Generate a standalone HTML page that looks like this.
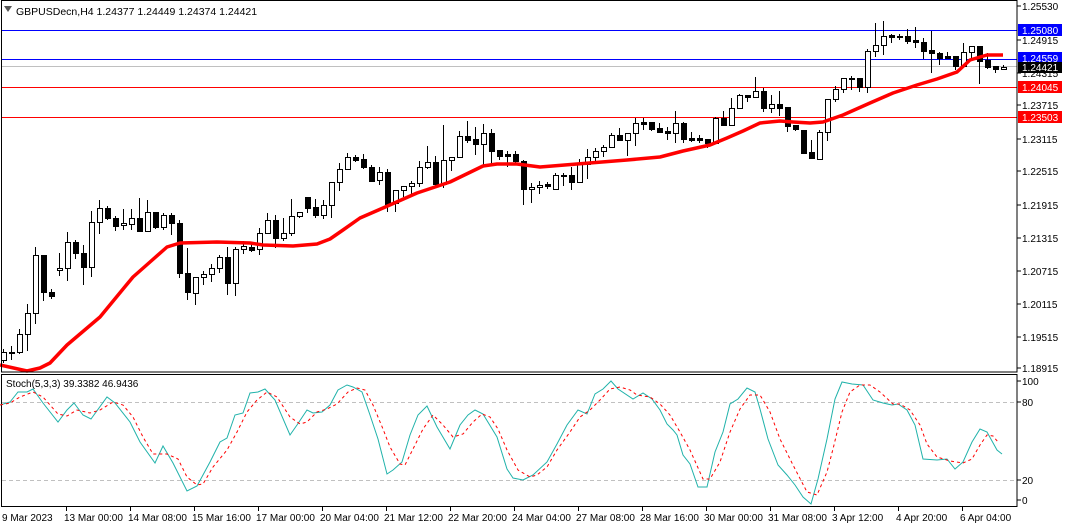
<!DOCTYPE html>
<html><head><meta charset="utf-8"><style>
html,body{margin:0;padding:0;background:#fff;}
svg{display:block;font-family:"Liberation Sans",sans-serif;font-size:10px;}
</style></head><body>
<svg id="s" width="1066" height="528" viewBox="0 0 1066 528" xmlns="http://www.w3.org/2000/svg">
<rect width="1066" height="528" fill="#fff"/>
<line x1="1" y1="30.5" x2="1017" y2="30.5" stroke="#0000ff" stroke-width="1"/>
<line x1="1" y1="59.5" x2="1017" y2="59.5" stroke="#0000ff" stroke-width="1"/>
<line x1="1" y1="66.5" x2="1017" y2="66.5" stroke="#c0c0c0" stroke-width="1"/>
<line x1="1" y1="87.5" x2="1017" y2="87.5" stroke="#ff0000" stroke-width="1"/>
<line x1="1" y1="117.5" x2="1017" y2="117.5" stroke="#ff0000" stroke-width="1"/>
<g id="candles"></g>
<polyline fill="none" stroke="#ff0000" stroke-width="3.5" stroke-linejoin="round" points="0,365 27,371 40,368 50,363 67,345 100,317 133,277 150,262 167,247 180,243 217,242 250,243 263,245 293,246 317,244 330,239 343,230 360,218 383,208 417,193 450,182 483,166 497,164 517,164 540,167 577,164 627,160 660,157 683,151 710,145 727,138 743,131 760,123 780,121 793,122 810,123 823,122 843,115 870,103 893,93 917,85 937,79 957,72 970,60 987,55 1003,55"/>
<rect x="1.5" y="0.5" width="1015.5" height="371.5" fill="none" stroke="#000"/>
<rect x="1.5" y="374.5" width="1015.5" height="132" fill="none" stroke="#000"/>
<text x="16" y="15" font-size="10.5">GBPUSDecn,H4  1.24377 1.24449 1.24374 1.24421</text>
<polygon points="4,6 12,6 8,12" fill="#555"/>
<g id="axis" font-size="10"></g>
<rect x="1018" y="24" width="44" height="12" fill="#0000ff"/><text x="1022" y="34" fill="#fff">1.25080</text>
<rect x="1018" y="52" width="44" height="11" fill="#0000ff"/><text x="1022" y="62" fill="#fff">1.24559</text>
<rect x="1018" y="62" width="44" height="11" fill="#000"/><text x="1022" y="71" fill="#fff">1.24421</text>
<rect x="1018" y="81" width="44" height="12" fill="#ff0000"/><text x="1022" y="91" fill="#fff">1.24045</text>
<rect x="1018" y="111" width="44" height="12" fill="#ff0000"/><text x="1022" y="121" fill="#fff">1.23503</text>
<line x1="2" y1="402.5" x2="1016" y2="402.5" stroke="#c0c0c0" stroke-dasharray="4,3"/>
<line x1="2" y1="480.5" x2="1016" y2="480.5" stroke="#c0c0c0" stroke-dasharray="4,3"/>
<text x="6" y="387" font-size="10">Stoch(5,3,3) 39.3382 46.9436</text>
<polyline fill="none" stroke="#20b2aa" stroke-width="1" points="0,405 10,402 18,392 27,392 33,389 43,403 58,422 67,410 74,403 83,415 91,419 107,397 115,403 130,422 140,442 155,463 163,446 173,463 187,491 197,486 210,462 220,442 227,438 235,415 243,413 250,393 258,392 265,389 275,400 290,435 297,425 307,410 313,413 322,412 330,405 338,390 347,385 353,387 362,392 370,415 378,439 387,474 393,470 402,462 410,435 418,415 427,406 437,427 450,449 460,425 468,415 475,410 483,414 497,437 507,469 513,478 523,480 533,475 547,462 557,444 567,425 578,410 587,414 595,394 603,389 611,381 618,389 633,399 643,393 652,399 660,410 667,424 673,430 677,435 683,455 690,464 698,487 707,487 715,452 723,432 730,404 738,399 747,388 755,392 760,409 768,439 778,465 787,475 795,485 803,497 811,504 818,479 827,439 835,399 842,382 852,384 863,385 873,400 883,403 892,405 898,404 907,410 915,425 923,459 937,460 947,459 955,469 963,462 972,442 980,429 987,432 997,450 1002,454"/>
<polyline fill="none" stroke="#ff0000" stroke-width="1" stroke-dasharray="3,3" points="0,405 10,403 20,397 33,392 43,397 58,414 67,416 77,410 90,413 100,410 113,402 123,405 133,417 143,437 153,454 167,454 178,459 187,477 197,485 203,484 213,467 227,450 237,432 247,412 257,400 267,392 277,397 290,417 300,424 307,422 317,412 327,409 337,404 348,392 357,388 365,390 373,405 383,429 390,447 400,464 405,465 413,449 423,429 433,415 443,425 453,437 463,434 473,422 482,414 490,417 498,429 507,450 518,470 530,477 537,475 547,467 557,450 570,432 580,417 590,410 600,400 610,389 620,387 630,390 637,395 650,397 660,404 670,415 680,432 690,450 703,479 710,479 720,462 730,432 740,409 750,395 760,395 770,412 780,439 793,465 807,492 817,495 827,472 833,449 842,412 850,392 860,385 870,385 880,392 893,404 900,404 910,410 920,425 927,444 937,457 950,461 963,463 972,459 980,445 987,435 993,436 998,442"/>
<g font-size="10">
<line x1="1017" y1="381" x2="1021" y2="381" stroke="#000"/><text x="1022" y="385">100</text>
<line x1="1017" y1="402" x2="1021" y2="402" stroke="#000"/><text x="1022" y="406">80</text>
<line x1="1017" y1="480" x2="1021" y2="480" stroke="#000"/><text x="1022" y="484">20</text>
<line x1="1017" y1="500" x2="1021" y2="500" stroke="#000"/><text x="1022" y="504">0</text>
</g>
<g id="time" font-size="10"></g>
</svg>
<script>
var C=[
[349,363,352,360,'w'],[346,360,352,352,'w'],[329,354,334,352,'w'],[304,351,313,334,'w'],[247,324,255,313,'w'],[255,301,255,292,'b'],[289,299,292,296,'b'],[253,276,268,270,'w'],[232,281,242,268,'w'],[240,259,242,253,'b'],
[245,285,253,267,'b'],[211,277,222,267,'w'],[200,234,208,222,'w'],[206,220,208,218,'b'],[216,231,218,226,'b'],[209,230,223,225,'w'],[209,230,218,224,'w'],[198,231,218,231,'b'],[200,231,212,231,'w'],[212,229,212,227,'b'],
[213,230,215,227,'w'],[213,235,215,223,'b'],[220,278,223,273,'b'],[248,300,273,292,'b'],[277,305,277,293,'w'],[271,285,274,277,'w'],[264,282,268,274,'w'],[255,273,257,268,'w'],[247,295,257,283,'b'],[247,296,249,283,'w'],
[241,254,246,249,'w'],[244,252,247,250,'b'],[228,255,233,249,'w'],[213,233,220,233,'w'],[215,248,220,238,'b'],[218,241,233,238,'w'],[199,236,216,233,'w'],[212,218,212,216,'w'],[197,213,197,208,'b'],[199,218,207,215,'b'],
[200,219,205,215,'w'],[182,218,182,205,'w'],[163,191,169,182,'w'],[153,170,157,169,'w'],[155,162,157,160,'b'],[154,169,159,167,'b'],[165,182,167,181,'b'],[167,185,172,180,'w'],[169,212,172,204,'b'],[190,212,190,203,'w'],
[186,197,186,190,'w'],[181,195,183,186,'w'],[161,187,167,183,'w'],[146,169,162,167,'w'],[156,188,162,184,'b'],[125,188,160,184,'w'],[157,171,157,160,'w'],[131,157,136,157,'w'],[121,143,136,140,'b'],[127,155,139,144,'b'],
[124,166,133,144,'w'],[129,166,133,151,'b'],[150,160,150,156,'b'],[151,167,154,156,'b'],[151,163,154,161,'b'],[160,205,161,189,'b'],[183,203,187,189,'w'],[181,194,185,187,'w'],[182,189,184,186,'b'],[173,189,175,189,'w'],
[173,186,175,176,'w'],[167,190,175,182,'b'],[159,183,164,182,'w'],[149,179,157,164,'w'],[148,164,151,157,'w'],[145,157,147,151,'w'],[133,148,135,147,'w'],[128,141,135,140,'b'],[133,156,133,140,'w'],[118,146,123,133,'w'],
[118,130,122,124,'b'],[122,131,122,129,'b'],[123,133,128,132,'b'],[127,140,131,133,'b'],[111,143,123,133,'w'],[122,143,123,139,'b'],[132,142,138,140,'b'],[135,143,138,140,'b'],[139,148,139,143,'b'],[117,143,118,143,'w'],
[111,125,118,125,'b'],[98,125,108,125,'w'],[94,108,95,108,'w'],[95,102,95,97,'b'],[77,97,91,97,'w'],[88,112,91,108,'b'],[95,113,104,108,'w'],[91,116,104,108,'b'],[107,132,107,126,'b'],[125,131,125,129,'b'],
[130,154,130,153,'b'],[140,158,152,158,'b'],[130,159,132,159,'w'],[99,141,99,132,'w'],[86,102,89,99,'w'],[78,93,78,89,'w'],[76,90,78,79,'w'],[78,92,78,87,'b'],[49,93,51,87,'w'],[23,57,45,51,'w'],
[21,55,36,45,'w'],[34,43,35,37,'b'],[34,40,36,37,'w'],[29,44,36,41,'b'],[27,48,40,42,'b'],[38,59,42,51,'b'],[31,73,50,53,'b'],[52,65,53,58,'b'],[52,59,56,58,'b'],[56,70,56,66,'b'],
[43,66,52,66,'w'],[46,59,46,52,'w'],[46,84,46,61,'b'],[53,69,60,67,'b'],[66,73,66,69,'b'],[65,70,67,69,'w']];
var h='';
C.forEach(function(c,i){var x=3+8*i;var t=c[2],b=c[3];if(b-t<1)b=t+1;
h+='<line x1="'+(x+0.5)+'" y1="'+c[0]+'" x2="'+(x+0.5)+'" y2="'+c[1]+'" stroke="#000"/>';
h+='<rect x="'+(x-2+0.5)+'" y="'+(t+0.5)+'" width="5" height="'+(b-t)+'" fill="'+(c[4]=='b'?'#000':'#fff')+'" stroke="#000"/>';});
document.getElementById('candles').innerHTML=h;
var a='',P=[['1.25530',6],['1.24915',40],['1.24315',73],['1.23715',105],['1.23115',139],['1.22515',171],['1.21915',205],['1.21315',238],['1.20715',271],['1.20115',304],['1.19515',337],['1.18915',368]];
P.forEach(function(p){a+='<line x1="1017" y1="'+p[1]+'" x2="1021" y2="'+p[1]+'" stroke="#000"/><text x="1022" y="'+(p[1]+4)+'">'+p[0]+'</text>';});
document.getElementById('axis').innerHTML=a;
var T=['13 Mar 00:00','14 Mar 08:00','15 Mar 16:00','17 Mar 00:00','20 Mar 04:00','21 Mar 12:00','22 Mar 20:00','24 Mar 04:00','27 Mar 08:00','28 Mar 16:00','30 Mar 00:00','31 Mar 08:00','3 Apr 12:00','4 Apr 20:00','6 Apr 04:00'];
var s='<text x="2" y="521">9 Mar 2023</text>';
T.forEach(function(t,i){var x=66+64*i;s+='<line x1="'+(x+0.5)+'" y1="507" x2="'+(x+0.5)+'" y2="511" stroke="#000"/><text x="'+(x-2)+'" y="521">'+t+'</text>';});
document.getElementById('time').innerHTML=s;
</script>
</body></html>
